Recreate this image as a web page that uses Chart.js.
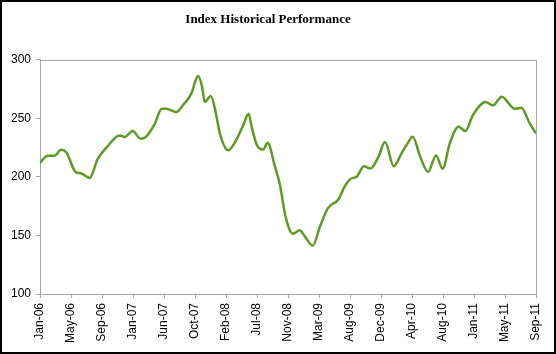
<!DOCTYPE html>
<html>
<head>
<meta charset="utf-8">
<script src="https://cdn.jsdelivr.net/npm/chart.js@4"></script>
<style>
  html, body { margin: 0; padding: 0; background: #fff; }
  #wrap { width: 556px; height: 354px; position: relative; }
  canvas { display: block; }
</style>
</head>
<body>
<div id="wrap"><canvas id="c" width="556" height="354"></canvas></div>
<script>
// Months elapsed since Jan-06 (fractional)
const months = [0.0, 1.05, 2.0, 2.9, 3.6, 4.9, 5.6, 6.8, 7.9, 9.2, 10.9, 11.6, 12.7, 13.8, 14.5, 15.7, 16.7, 17.3,
  18.7, 19.6, 20.8, 21.3, 21.7, 22.2, 22.6, 23.4, 24.0, 24.7, 25.8, 27.0, 27.9, 28.6, 29.0, 29.7, 30.6, 31.2,
  32.2, 32.9, 33.6, 34.3, 34.7, 35.6, 36.3, 37.4, 38.4, 39.5, 40.9, 41.8, 42.6, 43.4, 44.4, 45.3, 46.4, 47.3,
  48.5, 49.6, 50.3, 51.1, 52.1, 53.2, 54.3, 55.2, 56.2, 57.4, 58.3, 59.4, 61.1, 62.1, 63.3, 65.1, 66.0, 67.1, 68.0];
// Index level
const indexValues = [212, 218, 218, 223, 221, 204, 203, 199, 215, 225.6, 235.3, 234, 239, 232.5, 234, 244.7, 258, 258,
  255.2, 261, 271.8, 281.7, 286, 277.4, 263.8, 268.9, 257.5, 236, 222.7, 232.5, 244.7, 253.8, 243.2, 227.6, 223.3, 229,
  209, 193, 168, 153.5, 151.5, 154.4, 149.2, 141.3, 157.8, 173.5, 180.6, 192, 198.3, 200, 209, 207, 217, 229.6,
  209, 220.5, 227.6, 234.2, 217.6, 204.3, 218.2, 206.8, 229, 242.7, 239, 253.2, 263.8, 261, 268.4, 258, 259, 246, 237];
// X axis tick labels (evenly spaced across the span)
const tickLabels = ['Jan-06', 'May-06', 'Sep-06', 'Jan-07', 'Jun-07', 'Oct-07', 'Feb-08', 'Jul-08', 'Nov-08',
  'Mar-09', 'Aug-09', 'Dec-09', 'Apr-10', 'Aug-10', 'Jan-11', 'May-11', 'Sep-11'];
const yTicks = [100, 150, 200, 250, 300];
const titleText = 'Index Historical Performance';

const spanMonths = 68;
const points = months.map((m, i) => ({ x: m, y: indexValues[i] }));

const framePlugin = {
  id: 'frame',
  beforeDraw(chart) {
    const ctx = chart.ctx;
    ctx.save();
    ctx.fillStyle = '#fff';
    ctx.fillRect(0, 0, chart.width, chart.height);
    ctx.restore();
  },
  afterDraw(chart) {
    const ctx = chart.ctx;
    const a = chart.chartArea;
    ctx.save();
    ctx.strokeStyle = '#a6a6a6';
    ctx.lineWidth = 1;
    ctx.beginPath();
    ctx.moveTo(Math.round(a.left) + 0.5, Math.round(a.top) + 0.5);
    ctx.lineTo(Math.round(a.right) + 0.5, Math.round(a.top) + 0.5);
    ctx.lineTo(Math.round(a.right) + 0.5, Math.round(a.bottom) + 0.5);
    ctx.stroke();
    ctx.strokeStyle = '#000';
    ctx.lineWidth = 2;
    ctx.strokeRect(1, 1, chart.width - 2, chart.height - 2);
    ctx.restore();
  }
};

new Chart(document.getElementById('c'), {
  type: 'line',
  data: {
    datasets: [{
      data: points,
      borderColor: '#5e9a24',
      borderWidth: 2.5,
      pointRadius: 0,
      cubicInterpolationMode: 'monotone',
      fill: false
    }]
  },
  options: {
    responsive: false,
    animation: false,
    devicePixelRatio: 1,
    layout: { padding: { left: 0, right: 20, top: 0, bottom: 0 } },
    plugins: {
      legend: { display: false },
      tooltip: { enabled: false },
      title: {
        display: true,
        text: titleText,
        color: '#000',
        font: { family: 'Liberation Serif', size: 13, weight: 'bold' },
        padding: { top: 12, bottom: 32 }
      }
    },
    scales: {
      x: {
        type: 'linear',
        min: 0,
        max: spanMonths,
        afterBuildTicks(axis) {
          axis.ticks = tickLabels.map((_, i) => ({ value: i * spanMonths / (tickLabels.length - 1) }));
        },
        afterFit(axis) { axis.height = 60; },
        grid: { display: true, drawOnChartArea: false, drawTicks: true, tickLength: 4, color: '#a6a6a6' },
        border: { display: true, color: '#a6a6a6', width: 1 },
        ticks: {
          autoSkip: false,
          maxRotation: 90,
          minRotation: 90,
          padding: 5,
          color: '#000',
          font: { family: 'Liberation Sans', size: 12 },
          callback: (v, i) => tickLabels[i]
        }
      },
      y: {
        min: 100,
        max: 300,
        afterBuildTicks(axis) {
          axis.ticks = yTicks.map(v => ({ value: v }));
        },
        afterFit(axis) { axis.width = 40; },
        grid: { display: true, drawOnChartArea: false, drawTicks: true, tickLength: 4, color: '#a6a6a6' },
        border: { display: true, color: '#a6a6a6', width: 1 },
        ticks: {
          padding: 5,
          color: '#000',
          font: { family: 'Liberation Sans', size: 12 }
        }
      }
    }
  },
  plugins: [framePlugin]
});
</script>
</body>
</html>
